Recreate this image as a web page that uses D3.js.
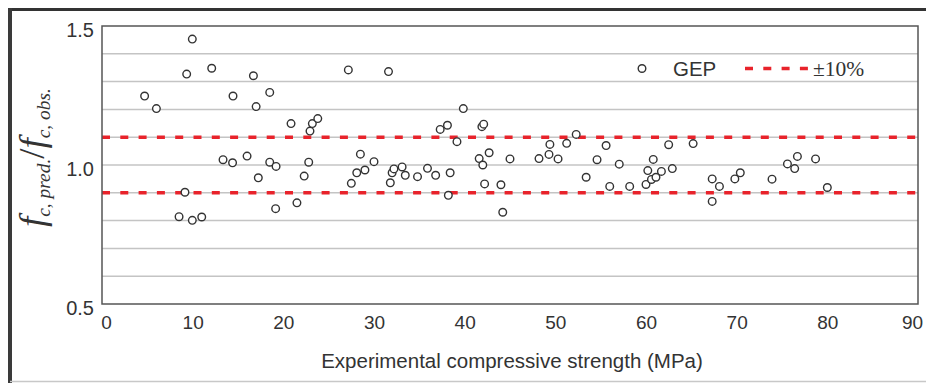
<!DOCTYPE html>
<html>
<head>
<meta charset="utf-8">
<script src="https://cdn.jsdelivr.net/npm/d3@7"></script>
<style>
  html, body { margin: 0; padding: 0; background: #fff; }
  svg { display: block; }
</style>
</head>
<body>
<div id="chart"></div>
<script>
// experimental strength (MPa) vs ratio of predicted / observed strength
const strength = [
  4.7, 6.0, 8.5, 9.15, 9.34, 9.96, 9.96, 11.0, 12.1, 13.35,
  14.4, 14.45, 16.0, 16.7, 17.0, 17.24, 18.5, 18.5, 19.15, 19.2,
  20.85, 21.5, 22.3, 22.8, 22.94, 23.2, 23.8, 27.17, 27.5, 28.1,
  28.5, 29.0, 30.0, 31.6, 31.8, 32.0, 32.2, 33.1, 33.45, 34.8,
  35.9, 36.8, 37.3, 38.1, 38.2, 38.4, 39.15, 39.85, 41.6, 41.9,
  42.0, 42.1, 42.2, 42.7, 44.0, 44.2, 45.0, 48.2, 49.3, 49.4,
  50.3, 51.25, 52.3, 53.4, 54.6, 55.6, 56.0, 57.05, 58.2, 60.0,
  60.2, 60.6, 60.8, 61.1, 61.7, 62.5, 62.9, 65.2, 67.3, 67.3,
  68.1, 69.8, 70.4, 73.9, 75.6, 76.4, 76.7, 78.7, 80.0
];
const ratio = [
  1.248, 1.203, 0.814, 0.902, 1.327, 1.453, 0.801, 0.813, 1.348, 1.019,
  1.008, 1.248, 1.032, 1.321, 1.210, 0.954, 1.261, 1.010, 0.843, 0.995,
  1.149, 0.864, 0.960, 1.010, 1.122, 1.149, 1.167, 1.342, 0.934, 0.972,
  1.039, 0.982, 1.012, 1.336, 0.936, 0.972, 0.986, 0.993, 0.963, 0.958,
  0.988, 0.963, 1.128, 1.143, 0.891, 0.972, 1.084, 1.203, 1.023, 1.138,
  1.000, 1.147, 0.932, 1.044, 0.929, 0.830, 1.022, 1.023, 1.038, 1.074,
  1.022, 1.078, 1.110, 0.956, 1.019, 1.070, 0.923, 1.003, 0.923, 0.930,
  0.980, 0.948, 1.020, 0.956, 0.977, 1.073, 0.987, 1.077, 0.950, 0.869,
  0.923, 0.950, 0.972, 0.949, 1.004, 0.987, 1.031, 1.022, 0.919
];
const xTicks = [0, 10, 20, 30, 40, 50, 60, 70, 80, 90];
const yTicks = [0.5, 1.0, 1.5];
const yGrid = [0.6, 0.7, 0.8, 0.9, 1.0, 1.1, 1.2, 1.3, 1.4];
const bounds = [0.9, 1.1];

const width = 926, height = 383;
const margin = {left: 102, right: 8, top: 26, bottom: 79};

const svg = d3.select("#chart").append("svg")
  .attr("width", width)
  .attr("height", height);

const x = d3.scaleLinear().domain([0, 90]).range([margin.left, width - margin.right]);
const y = d3.scaleLinear().domain([0.5, 1.5]).range([height - margin.bottom, margin.top]);

// outer frame of the figure
svg.append("line").attr("x1", 10).attr("x2", width).attr("y1", 9.5).attr("y2", 9.5)
  .attr("stroke", "#333").attr("stroke-width", 3);
svg.append("line").attr("x1", 10).attr("x2", 10).attr("y1", 8).attr("y2", height)
  .attr("stroke", "#3a3a3a").attr("stroke-width", 4);
svg.append("line").attr("x1", 10).attr("x2", width).attr("y1", 381.5).attr("y2", 381.5)
  .attr("stroke", "#c8c8c8").attr("stroke-width", 1.5);

// horizontal grid
svg.append("g")
  .selectAll("line")
  .data(yGrid)
  .join("line")
  .attr("x1", x(0)).attr("x2", x(90))
  .attr("y1", d => y(d)).attr("y2", d => y(d))
  .attr("stroke", "#c4c4c4")
  .attr("stroke-width", 1.5);

// +-10% bounds
svg.append("g")
  .selectAll("line")
  .data(bounds)
  .join("line")
  .attr("x1", x(0)).attr("x2", x(90))
  .attr("y1", d => y(d)).attr("y2", d => y(d))
  .attr("stroke", "#e8232b")
  .attr("stroke-width", 3.5)
  .attr("stroke-dasharray", "8,10.3");

// plot frame
svg.append("rect")
  .attr("x", x(0)).attr("y", y(1.5))
  .attr("width", x(90) - x(0)).attr("height", y(0.5) - y(1.5))
  .attr("fill", "none")
  .attr("stroke", "#555")
  .attr("stroke-width", 1.5);

// axes - only labels, the frame draws the lines
const xAxis = svg.append("g")
  .attr("transform", `translate(0,${y(0.5)})`)
  .call(d3.axisBottom(x).tickValues(xTicks).tickSize(0).tickPadding(12).tickFormat(d3.format("d")));
xAxis.select(".domain").remove();
xAxis.selectAll("text")
  .attr("font-family", "Liberation Sans, Arial, sans-serif")
  .attr("font-size", 19)
  .attr("fill", "#333");
xAxis.selectAll(".tick").filter(d => d === 0).select("text").attr("dx", 4);
xAxis.selectAll(".tick").filter(d => d === 90).select("text").attr("dx", -6);

const yAxis = svg.append("g")
  .attr("transform", `translate(${x(0)},0)`)
  .call(d3.axisLeft(y).tickValues(yTicks).tickSize(0).tickPadding(8).tickFormat(d3.format(".1f")));
yAxis.select(".domain").remove();
yAxis.selectAll("text")
  .attr("font-family", "Liberation Sans, Arial, sans-serif")
  .attr("font-size", 20)
  .attr("fill", "#333")
  .attr("dy", "0.5em");

// points
svg.append("g")
  .selectAll("circle")
  .data(strength.map((s, i) => ({s: s, r: ratio[i]})))
  .join("circle")
  .attr("cx", d => x(d.s))
  .attr("cy", d => y(d.r))
  .attr("r", 3.8)
  .attr("fill", "#fff")
  .attr("stroke", "#333")
  .attr("stroke-width", 1.4);

// legend
const legend = svg.append("g");
legend.append("circle").attr("cx", 642).attr("cy", 68.5).attr("r", 3.8)
  .attr("fill", "#fff").attr("stroke", "#333").attr("stroke-width", 1.4);
legend.append("text").attr("x", 673).attr("y", 75.5).text("GEP")
  .attr("font-family", "Liberation Sans, Arial, sans-serif")
  .attr("font-size", 20.5).attr("fill", "#333");
legend.append("line").attr("x1", 745).attr("x2", 810).attr("y1", 68.5).attr("y2", 68.5)
  .attr("stroke", "#e8232b").attr("stroke-width", 3.5).attr("stroke-dasharray", "8,10.3");
legend.append("text").attr("x", 813).attr("y", 75.5).text("±10%")
  .attr("font-family", "Liberation Serif, Times New Roman, serif")
  .attr("font-size", 21.5).attr("fill", "#333");

// axis titles
svg.append("text")
  .attr("x", (x(0) + x(90)) / 2 + 2)
  .attr("y", 368)
  .attr("text-anchor", "middle")
  .attr("font-family", "Liberation Sans, Arial, sans-serif")
  .attr("font-size", 20.5)
  .attr("fill", "#333")
  .text("Experimental compressive strength (MPa)");

const yTitle = svg.append("text")
  .attr("font-family", "Liberation Serif, Times New Roman, serif")
  .attr("font-style", "italic")
  .attr("fill", "#333");
yTitle.append("tspan").attr("font-size", 36).text("f");
yTitle.append("tspan").attr("font-size", 19).attr("dy", 6).text("c, pred.");
yTitle.append("tspan").attr("font-size", 36).attr("font-style", "normal").attr("dy", -6).text("/");
yTitle.append("tspan").attr("font-size", 36).text("f");
yTitle.append("tspan").attr("font-size", 19).attr("dy", 6).text("c, obs.");

// fit the rotated title between y=227 (start) and y=88 (end)
const tb = yTitle.node().getBBox();
const k = (227 - 88) / tb.width;
yTitle.attr("transform", `translate(44,${227 + k * tb.x}) rotate(-90) scale(${k})`);
</script>
</body>
</html>
